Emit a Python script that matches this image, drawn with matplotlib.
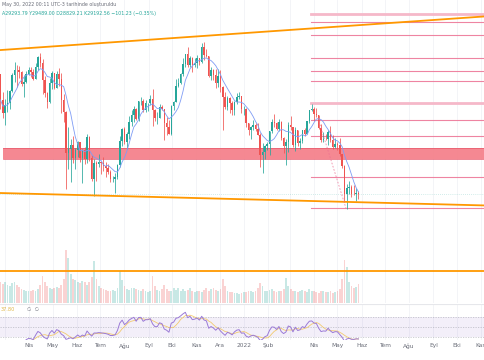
import numpy as np
import pandas as pd
import matplotlib
matplotlib.use("Agg")
import matplotlib.pyplot as plt
import matplotlib.dates as mdates

UP = "#26a69a"
DOWN = "#ef5350"
ORANGE = "#ff9800"
PINK = "#ec6f92"

# 3-day candles of BTC, prices in thousands
start = "2021-02-22"
prev_close = 57.4
close = [49.7, 46.2, 48.4, 48.8, 52.4, 57.3, 59.0, 58.9, 58.1, 54.3,
         55.0, 57.6, 58.7, 58.2, 56.0, 59.8, 63.5, 61.4, 55.7, 51.7,
         49.0, 54.8, 57.8, 53.2, 57.4, 55.9, 49.7, 46.4, 36.7, 37.5,
         38.4, 35.7, 37.3, 39.2, 35.8, 37.3, 35.6, 40.2, 35.8, 31.7,
         34.7, 34.6, 35.0, 34.7, 34.2, 33.8, 33.1, 31.8, 31.8, 32.1,
         34.3, 39.4, 42.2, 39.2, 40.9, 43.8, 45.6, 47.1, 44.7, 49.3,
         49.5, 47.0, 48.8, 48.8, 49.9, 46.8, 44.9, 44.9, 47.8, 47.3,
         43.6, 42.7, 41.0, 48.1, 49.1, 53.8, 54.7, 57.4, 60.9, 64.3,
         60.7, 63.1, 60.6, 61.3, 62.9, 61.5, 66.9, 64.2, 63.6, 56.9,
         58.7, 57.2, 54.8, 57.0, 53.6, 50.6, 47.7, 50.1, 48.9, 46.8,
         49.0, 50.4, 50.7, 47.1, 47.3, 43.5, 41.9, 42.7, 43.1, 42.2,
         40.7, 36.3, 37.0, 38.2, 38.7, 41.6, 43.8, 43.6, 42.1, 43.9,
         40.1, 38.3, 39.2, 43.2, 42.5, 38.4, 41.9, 38.8, 39.3, 41.8,
         41.0, 44.0, 46.8, 47.1, 45.8, 45.5, 42.3, 39.5, 39.9, 39.7,
         41.4, 39.5, 38.1, 38.6, 38.5, 36.5, 34.1, 29.1, 30.1, 30.4,
         29.2, 29.1, 29.3, 29.2]
high = [57.5, 51.9, 50.0, 52.6, 52.5, 57.9, 61.7, 60.6, 60.1, 58.6,
        57.2, 58.4, 59.8, 60.0, 59.3, 61.2, 63.8, 64.9, 62.5, 57.0,
        52.1, 56.4, 58.5, 57.9, 58.4, 59.5, 58.0, 51.4, 46.6, 42.6,
        39.9, 40.4, 37.9, 39.3, 39.2, 37.5, 38.1, 41.0, 40.5, 36.4,
        35.5, 35.2, 36.6, 35.0, 35.9, 35.0, 34.6, 33.3, 32.2, 32.8,
        34.5, 40.5, 42.3, 42.6, 41.4, 45.3, 46.8, 48.1, 47.4, 49.4,
        50.5, 49.9, 49.6, 48.9, 51.0, 52.9, 47.3, 46.4, 48.5, 48.4,
        47.3, 45.0, 44.3, 48.4, 49.5, 55.8, 56.1, 58.0, 62.9, 64.4,
        67.0, 63.7, 63.3, 62.9, 64.2, 63.0, 68.5, 69.0, 66.3, 63.6,
        60.0, 59.2, 59.3, 59.2, 59.0, 53.8, 51.9, 50.8, 50.4, 49.4,
        49.3, 51.8, 52.0, 50.7, 47.9, 47.5, 43.7, 42.8, 44.3, 43.6,
        43.5, 41.1, 38.9, 38.4, 39.2, 41.7, 44.5, 45.8, 43.9, 44.7,
        44.0, 40.2, 39.8, 43.8, 45.4, 42.5, 42.6, 42.0, 40.0, 42.0,
        42.3, 44.2, 46.9, 48.6, 47.6, 47.4, 45.5, 43.4, 41.5, 40.9,
        42.0, 42.9, 40.8, 40.0, 39.2, 40.0, 36.6, 34.3, 30.9, 31.4,
        30.7, 30.6, 30.2, 29.6]
low = [47.1, 44.9, 43.0, 46.3, 47.1, 51.9, 54.9, 53.6, 56.3, 53.7,
       50.4, 54.7, 57.3, 56.5, 55.5, 55.8, 59.0, 60.0, 51.5, 50.6,
       47.5, 48.8, 52.8, 53.0, 53.2, 53.7, 46.0, 43.8, 30.0, 33.5,
       31.1, 34.7, 33.5, 35.9, 34.9, 31.0, 34.6, 34.8, 35.1, 31.3,
       28.8, 31.3, 33.9, 32.7, 33.2, 32.1, 32.7, 31.2, 31.1, 29.3,
       31.7, 33.9, 38.3, 38.7, 37.5, 39.9, 42.8, 43.8, 44.4, 44.2,
       48.3, 46.5, 46.4, 46.6, 48.4, 42.9, 44.2, 43.4, 44.8, 46.8,
       39.6, 40.8, 40.9, 40.8, 46.9, 49.0, 53.6, 54.4, 56.8, 59.9,
       60.0, 59.8, 58.1, 60.0, 59.6, 60.7, 61.4, 62.3, 63.3, 56.5,
       55.7, 55.7, 53.3, 53.6, 52.0, 42.0, 47.3, 46.9, 46.0, 45.5,
       45.6, 48.5, 50.0, 46.0, 45.7, 42.5, 40.6, 39.7, 41.8, 41.6,
       40.6, 34.0, 32.9, 35.6, 37.4, 36.3, 41.1, 42.7, 41.8, 41.6,
       39.5, 36.8, 34.3, 37.0, 41.8, 38.0, 37.2, 38.2, 37.6, 38.9,
       40.5, 40.9, 43.6, 46.6, 44.2, 45.1, 42.1, 39.2, 39.2, 39.5,
       38.5, 39.2, 37.7, 37.9, 37.4, 36.2, 33.7, 27.8, 26.7, 29.1,
       28.7, 28.9, 28.0, 28.3]
volume = [70, 62, 68, 58, 55, 65, 70, 60, 52, 45,
          42, 40, 38, 40, 42, 38, 45, 60, 90, 70,
          55, 50, 45, 48, 52, 50, 60, 80, 175, 150,
          95, 80, 75, 70, 65, 72, 68, 60, 70, 85,
          140, 80, 55, 50, 45, 42, 40, 38, 42, 40,
          50, 105, 75, 55, 45, 42, 50, 48, 45, 42,
          40, 45, 38, 36, 40, 90, 55, 42, 40, 45,
          60, 45, 38, 40, 50, 42, 48, 40, 45, 40,
          42, 50, 38, 36, 40, 38, 35, 42, 48, 40,
          45, 50, 42, 40, 45, 80, 55, 38, 35, 36,
          34, 32, 30, 33, 35, 36, 40, 38, 35, 40,
          50, 66, 55, 40, 38, 42, 45, 40, 36, 38,
          40, 45, 82, 55, 45, 40, 38, 36, 40, 42,
          38, 36, 45, 40, 38, 36, 34, 40, 38, 36,
          35, 38, 34, 36, 40, 45, 80, 142, 120, 70,
          55, 50, 52, 62]

# drawn levels (thousands)
fib_levels = [77.4, 71.8, 62.9, 58.5, 55.3, 44.3, 40.55, 32.0, 26.86]
fib_light = [80.9, 48.9]
fib_start = "2022-03-28"
zone = (35.45, 37.75)
zone_start = "2021-02-26"
upper_trend = (("2021-02-22", 65.9), ("2022-11-07", 79.8))
lower_trend = (("2021-02-22", 29.3), ("2022-11-07", 27.3))
drop_line = (("2022-04-06", 44.8), ("2022-05-12", 26.86))
support_line = 18.8
last_price = 29.19

month_ticks = ["2021-04-01", "2021-05-01", "2021-06-01", "2021-07-01", "2021-08-01",
               "2021-09-01", "2021-10-01", "2021-11-01", "2021-12-01", "2022-01-01",
               "2022-02-01", "2022-04-01", "2022-05-01", "2022-06-01", "2022-07-01",
               "2022-08-01", "2022-09-01", "2022-10-01", "2022-11-01"]
month_labels = ["Nis", "May", "Haz", "Tem", "Ağu", "Eyl", "Eki", "Kas", "Ara", "2022",
                "Şub", "Nis", "May", "Haz", "Tem", "Ağu", "Eyl", "Eki", "Kas"]
grid_months = pd.date_range("2021-03-01", "2022-11-01", freq="MS")

df = pd.DataFrame({"close": close, "high": high, "low": low, "volume": volume})
df["open"] = df["close"].shift(1).fillna(prev_close)
df["date"] = pd.date_range(start, periods=len(df), freq="3D") + pd.Timedelta(days=1)
x = mdates.date2num(df["date"])
up = df["close"] >= df["open"]
cols = np.where(up, UP, DOWN)

ma = df["close"].rolling(7, min_periods=1).mean()
delta = df["close"] - df["open"]
gain = delta.clip(lower=0).ewm(alpha=1 / 10, adjust=False).mean()
loss = (-delta.clip(upper=0)).ewm(alpha=1 / 10, adjust=False).mean()
rsi = 100 - 100 / (1 + gain / loss.replace(0, 1e-9))
rsi_ma = rsi.rolling(5, min_periods=1).mean()
rsi[:3] = np.nan

d0 = mdates.date2num(pd.Timestamp("2021-04-01"))
xlim = (d0 - 37.6, d0 + 584.2)

fig = plt.figure(figsize=(4.85, 3.6), dpi=100)
ax = fig.add_axes([0, 1 - 303 / 360, 1, 303 / 360])
vax = ax.twinx()
rax = fig.add_axes([0, 1 - 340 / 360, 1, 36 / 360])
ax.set_zorder(vax.get_zorder() + 1)
ax.patch.set_visible(False)

for a in (ax, vax, rax):
    a.set_xlim(*xlim)
    for s in a.spines.values():
        s.set_visible(False)
    a.tick_params(length=0, labelleft=False, labelright=False, labelbottom=False)
    a.set_yticks([])

gx = mdates.date2num(grid_months)
for g in gx:
    vax.axvline(g, color="#f1f2f6", lw=0.6, zorder=0)
    rax.axvline(g, color="#f1f2f6", lw=0.6, zorder=0)
ax.set_xticks([])

ax.set_yscale("log")
ax.set_ylim(15.7, 87.56)
ax.set_yticks([])
ax.minorticks_off()
vax.set_ylim(0, 1000)

# volume
vax.bar(x, df["volume"], width=2.3, color=cols, alpha=0.25, linewidth=0)

# zone and levels
zs = mdates.date2num(pd.Timestamp(zone_start))
ax.fill_between([zs, xlim[1]], zone[0], zone[1], color="#f5828c", alpha=0.95,
                linewidth=0, zorder=1)
for lv in zone:
    ax.plot([zs, xlim[1]], [lv, lv], color="#e8586a", lw=0.5, zorder=1)
fs = mdates.date2num(pd.Timestamp(fib_start))
for lv in fib_levels:
    ax.plot([fs, xlim[1]], [lv, lv], color=PINK, lw=0.8, alpha=0.85, zorder=1)
for lv in fib_light:
    ax.plot([fs, xlim[1]], [lv, lv], color="#f5b8c9", lw=2.0, zorder=1)
ax.axhline(last_price, color=UP, lw=0.5, ls=(0, (1, 2)), alpha=0.4, zorder=1)

# candles
ax.vlines(x, df["low"], df["high"], colors=cols, lw=0.55, zorder=3)
body_lo = np.minimum(df["open"], df["close"])
body_hi = np.maximum(df["open"], df["close"])
ax.bar(x, body_hi - body_lo, bottom=body_lo, width=1.9, color=cols, linewidth=0, zorder=3)
ax.plot(x, ma, color="#7f9cf5", lw=0.6, zorder=4)

# trend lines
for (d1, p1), (d2, p2) in (upper_trend, lower_trend):
    ax.plot(mdates.date2num(pd.to_datetime([d1, d2])), [p1, p2], color=ORANGE, lw=1.3, zorder=5)
(d1, p1), (d2, p2) = drop_line
ax.plot(mdates.date2num(pd.to_datetime([d1, d2])), [p1, p2], color=PINK, lw=0.6,
        ls=(0, (2, 2)), alpha=0.8, zorder=5)
ax.axhline(support_line, color=ORANGE, lw=1.3, zorder=5)

# RSI pane
rax.set_ylim(24, 96)
rax.fill_between(xlim, 30, 70, color="#7e57c2", alpha=0.09, linewidth=0)
for lv in (70, 50, 30):
    rax.axhline(lv, color="#9598a1", lw=0.45, ls=(0, (2, 2)), alpha=0.7)
rax.plot(x, rsi_ma, color="#f2c14e", lw=0.6, alpha=0.8)
rax.plot(x, rsi, color="#9b7ad6", lw=0.7)
rax.axhline(96, color="#e6e7eb", lw=0.8)
rax.text(0.002, 0.93, "37.80", transform=rax.transAxes, fontsize=3.6, color="#e0b84a",
         va="top", ha="left")
rax.text(0.055, 0.93, "∅  ∅", transform=rax.transAxes, fontsize=3.6, color="#787b86",
         va="top", ha="left")
rax.set_xticks(mdates.date2num(pd.to_datetime(month_ticks)))
rax.set_xticklabels(month_labels)
rax.tick_params(axis="x", labelbottom=True, labelsize=4.2, labelcolor="#6a6d78", pad=2.5)

# header text
fig.text(2 / 485, 1 - 4.5 / 360, "May 30, 2022 00:11 UTC-3 tarihinde oluşturuldu",
         fontsize=3.4, color="#6a6d78", ha="left", va="center")
fig.text(2 / 485, 1 - 13.5 / 360, "A29293.79 Y29489.00 D28829.21 K29192.56 −101.23 (−0.35%)",
         fontsize=3.4, color=UP, ha="left", va="center")

fig.savefig("out.png", dpi=100, facecolor="white")
